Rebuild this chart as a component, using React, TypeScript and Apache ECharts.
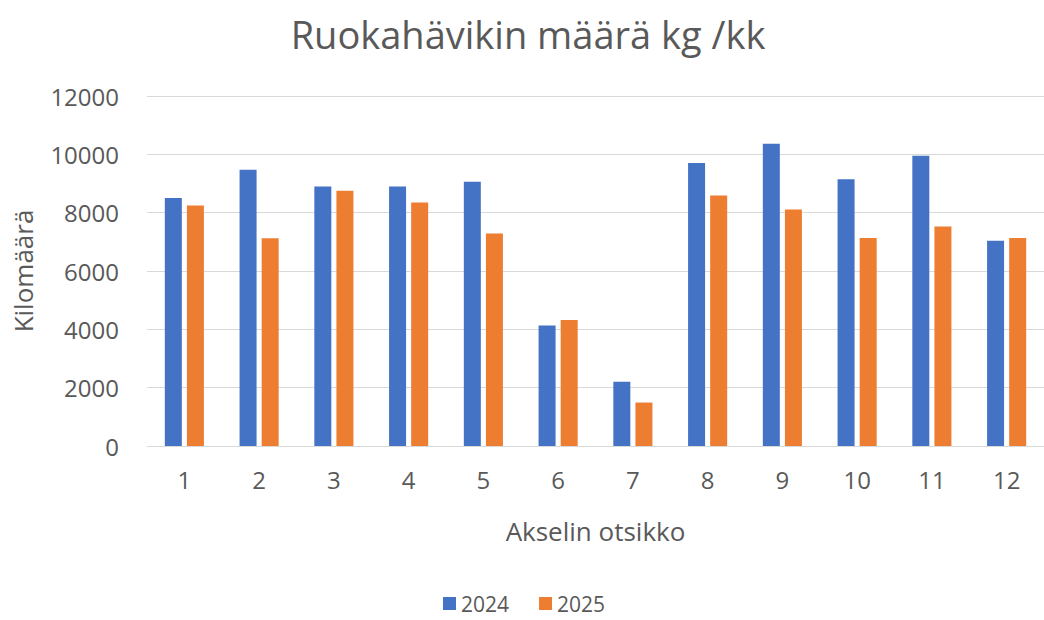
import React, { useEffect, useRef } from "react";
import * as echarts from "echarts";

const categories = ["1", "2", "3", "4", "5", "6", "7", "8", "9", "10", "11", "12"];
const values2024 = [8500, 9470, 8900, 8900, 9060, 4130, 2200, 9700, 10360, 9150, 9950, 7040];
const values2025 = [8250, 7120, 8750, 8350, 7290, 4320, 1490, 8590, 8110, 7130, 7530, 7130];
const yTicks = [0, 2000, 4000, 6000, 8000, 10000, 12000];
const seriesNames = ["2024", "2025"];

const FONT = "'Open Sans', sans-serif";
const TEXT = "#595959";

export default function App() {
  const ref = useRef<HTMLDivElement>(null);
  useEffect(() => {
    if (!ref.current) return;
    const chart = echarts.init(ref.current, undefined, { renderer: "svg" });
    chart.setOption({
      animation: false,
      backgroundColor: "#ffffff",
      textStyle: { fontFamily: FONT, color: TEXT },
      title: {
        text: "Ruokahävikin määrä kg /kk",
        left: 523,
        textAlign: "center",
        top: 10,
        textStyle: { fontFamily: FONT, fontSize: 38, fontWeight: "normal", color: TEXT },
      },
      legend: {
        data: seriesNames,
        top: 588,
        left: 438,
        itemWidth: 13,
        itemHeight: 13,
        itemGap: 30,
        icon: "rect",
        textStyle: { fontFamily: FONT, fontSize: 21, lineHeight: 20, color: TEXT },
      },
      grid: { left: 147, top: 96, width: 904, height: 350, containLabel: false },
      xAxis: {
        type: "category",
        data: categories,
        name: "Akselin otsikko",
        nameLocation: "middle",
        nameGap: 72,
        nameTextStyle: { fontFamily: FONT, fontSize: 26, color: TEXT },
        axisLine: { show: true, lineStyle: { color: "#d9d9d9", width: 1 } },
        axisTick: { show: false },
        axisLabel: { fontFamily: FONT, fontSize: 24, color: TEXT, margin: 21 },
      },
      yAxis: {
        type: "value",
        min: 0,
        max: yTicks[yTicks.length - 1],
        interval: 2000,
        name: "Kilomäärä",
        nameLocation: "middle",
        nameGap: 111,
        nameTextStyle: { fontFamily: FONT, fontSize: 26, color: TEXT },
        axisLine: { show: false },
        axisTick: { show: false },
        splitLine: { lineStyle: { color: "#d9d9d9", width: 1 } },
        axisLabel: {
          fontFamily: FONT,
          fontSize: 24,
          color: TEXT,
          margin: 28,
          formatter: (v: number) => String(v),
        },
      },
      series: [
        {
          name: seriesNames[0],
          type: "bar",
          data: values2024,
          barWidth: 17,
          barGap: "30%",
          itemStyle: { color: "#4472C4" },
        },
        {
          name: seriesNames[1],
          type: "bar",
          data: values2025,
          barWidth: 17,
          barGap: "30%",
          itemStyle: { color: "#ED7D31" },
        },
      ],
    });
    return () => chart.dispose();
  }, []);
  return (
    <div
      ref={ref}
      style={{ position: "fixed", left: 0, top: 0, width: 1044, height: 620, background: "#fff" }}
    />
  );
}
